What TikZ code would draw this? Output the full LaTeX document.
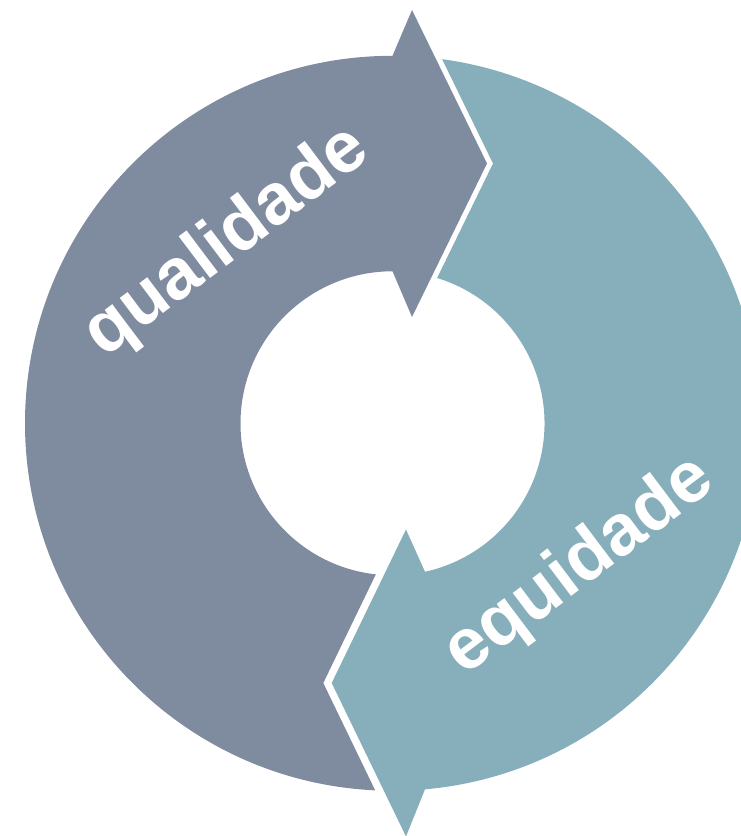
\documentclass[tikz,border=0pt]{standalone}
\usepackage{fontspec}
\setmainfont{Liberation Sans}
\definecolor{graya}{HTML}{7F8C9F}
\definecolor{teala}{HTML}{87AEBB}
\tikzset{
  lbl/.style={text=white, font=\bfseries\fontsize{72}{72}\selectfont, inner sep=0pt, rotate=37}
}
\begin{document}
\begin{tikzpicture}[x=1pt,y=1pt]
\useasboundingbox (0,0) rectangle (741,836);
\begin{scope}[shift={(392.5,412.7)}]
  % gray arrow (qualidade)
  \fill[graya] (90:367.5) arc[start angle=90, end angle=267.3, radius=367.5]
    -- (-69.2,-259.7) -- (263.7:152)
    arc[start angle=263.7, end angle=90, radius=152]
    -- (19.5,106.3) -- (94.5,259.8) -- (19.5,413.3) -- cycle;
  % teal arrow (equidade)
  \fill[teala] (275.07:367.5) arc[start angle=275.07, end angle=442.24, radius=367.5]
    -- (100.5,259.8) -- (72.94:152)
    arc[start angle=72.94, end angle=-77.65, radius=152]
    -- (13.5,-106.2) -- (-60.8,-259.7) -- (13.5,-413.2) -- cycle;
  \node[lbl] (q) at (-165,181) {qualidade};
  \node[lbl] (e) at (187.5,-143.4) {equidade};
\end{scope}
\end{tikzpicture}
\end{document}
